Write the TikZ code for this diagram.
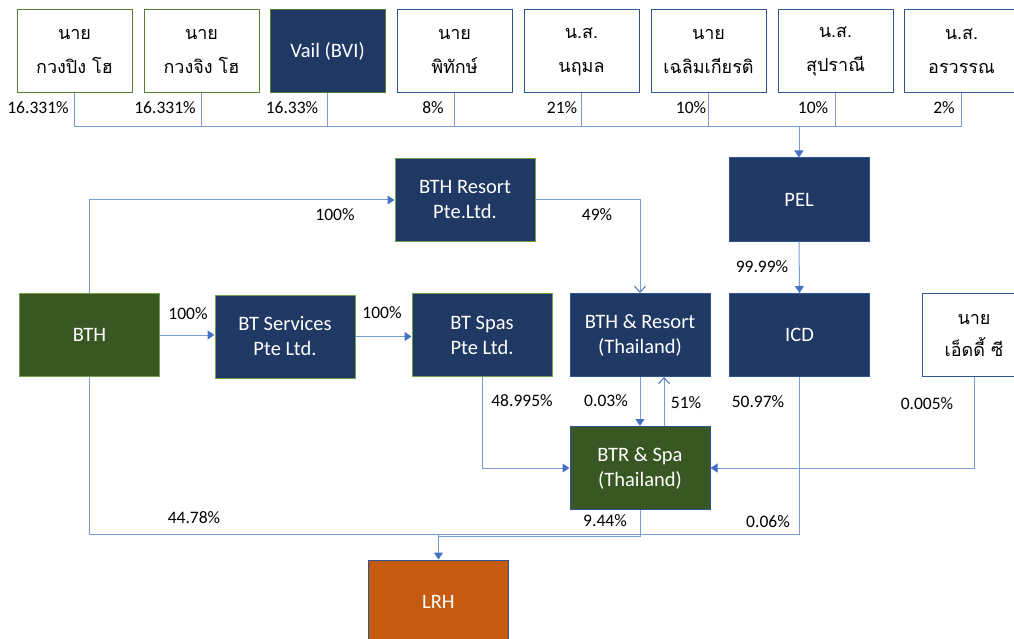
\documentclass[tikz,border=0pt]{standalone}
\usepackage{fontspec}
\setmainfont{Carlito}
\newfontfamily\thaifont[Script=Thai]{Loma}
\usetikzlibrary{arrows.meta}
\definecolor{navy}{RGB}{32,56,100}
\definecolor{dgreen}{RGB}{56,87,35}
\definecolor{gborder}{RGB}{112,160,80}
\definecolor{tgborder}{RGB}{84,130,53}
\definecolor{bborder}{RGB}{47,85,151}
\definecolor{lrhfill}{RGB}{197,90,17}
\definecolor{conn}{RGB}{120,155,215}
\definecolor{tipc}{RGB}{68,114,196}
\tikzset{
  box/.style={draw, line width=1pt, minimum width=140pt, minimum height=83pt, inner sep=0pt, align=center},
  topbox/.style={box, minimum width=115pt},
  thaibox/.style={topbox, fill=white, font=\thaifont\fontsize{18}{34}\selectfont},
  navybox/.style={box, fill=navy, text=white, font=\fontsize{20.5}{25}\selectfont},
  greenbox/.style={box, fill=dgreen, draw=gborder, text=white, font=\fontsize{20.5}{25}\selectfont},
  conline/.style={draw=conn, line width=1pt},
  arr/.style={conline, -{Triangle[width=9pt,length=7pt,color=tipc]}},
  arro/.style={conline, -{Straight Barb[width=11pt,length=6pt,color=tipc]}},
  pct/.style={font=\fontsize{17.5}{20}\selectfont, inner sep=0pt}
}
\begin{document}
\begin{tikzpicture}[x=1pt,y=-1pt]
\useasboundingbox (0,0) rectangle (1014,639);
% top row
\node[thaibox, draw=tgborder] (p1) at (74.5,51.5) {นาย\\กวงปิง โฮ};
\node[thaibox, draw=tgborder] (p2) at (201.5,51.5) {นาย\\กวงจิง โฮ};
\node[topbox, fill=navy, draw=tgborder, text=white, font=\fontsize{20.5}{25}\selectfont] (p3) at (327.5,51.5) {Vail (BVI)};
\node[thaibox, draw=bborder] (p4) at (454.5,51.5) {นาย\\พิทักษ์};
\node[thaibox, draw=bborder] (p5) at (581.5,51.5) {น.ส.\\นฤมล};
\node[thaibox, draw=bborder] (p6) at (708.5,51.5) {นาย\\เฉลิมเกียรติ};
\node[thaibox, draw=bborder] (p7) at (835.5,51.5) {น.ส.\\สุปราณี};
\node[thaibox, draw=bborder] (p8) at (961.5,51.5) {น.ส.\\อรวรรณ};
% middle
\node[navybox, draw=bborder] (pel) at (799,199.5) {PEL};
\node[navybox, draw=gborder] (bthr) at (465,200) {BTH Resort\\Pte.Ltd.};
\node[greenbox] (bth) at (89.5,335) {BTH};
\node[navybox, draw=gborder] (bts) at (285,336.5) {BT Services\\Pte Ltd.};
\node[navybox, draw=gborder] (btspa) at (482,335) {BT Spas\\Pte Ltd.};
\node[navybox, draw=bborder] (bthres) at (640,335) {BTH \& Resort\\(Thailand)};
\node[navybox, draw=bborder] (icd) at (799.5,335) {ICD};
\node[box, draw=bborder, fill=white, minimum width=104pt, font=\thaifont\fontsize{18}{32}\selectfont] (eddy) at (974,335) {นาย\\เอ็ดดี้ ซี};
\node[greenbox, draw=bborder] (btr) at (640,468) {BTR \& Spa\\(Thailand)};
\node[box, fill=lrhfill, draw=bborder, text=white, font=\fontsize{20.5}{25}\selectfont] (lrh) at (438.5,601.5) {LRH};
% top bus
\coordinate (busY) at (0,127);
\foreach \p in {p1,p2,p3,p4,p5,p6,p7}{
  \draw[conline] (\p.south) |- (p8.south |- busY);
}
\draw[conline] (p8.south) -- (p8.south |- busY);
\draw[arr] (pel.north |- busY) -- (pel.north);
% connectors
\draw[arr] (bth.north) |- (bthr.west);
\draw[arro] (bthr.east) -| (bthres.north);
\draw[arr] (pel.south) -- (icd.north);
\draw[arr] (bth.east) -- (bth.east -| bts.west);
\draw[arr] (bts.east) -- (bts.east -| btspa.west);
\draw[arr] (btspa.south) |- (btr.west);
\draw[arr] (bthres.south) -- (btr.north);
\draw[arro] ([xshift=24pt]btr.north) -- ([xshift=24pt]bthres.south);
\draw[arr] (eddy.south) |- (btr.east);
\coordinate (j) at (438.5,534);
\draw[conline] (bth.south) |- (j);
\draw[conline] (icd.south) |- (j);
\draw[conline] (btr.south) |- ([yshift=-2pt]j);
\draw[arr] (j) -- (lrh.north);
% percentages
\node[pct] (l1) at (38,108) {16.331\%};
\node[pct] (l2) at (165,108) {16.331\%};
\node[pct] (l3) at (292,108) {16.33\%};
\node[pct] (l4) at (433,108) {8\%};
\node[pct] (l5) at (562,108) {21\%};
\node[pct] (l6) at (691,108) {10\%};
\node[pct] (l7) at (813,108) {10\%};
\node[pct] (l8) at (944,108) {2\%};
\node[pct] (l9) at (335,215) {100\%};
\node[pct] (l10) at (597,215) {49\%};
\node[pct] (l11) at (762,267) {99.99\%};
\node[pct] (l12) at (188,314) {100\%};
\node[pct] (l13) at (382,313) {100\%};
\node[pct] (l14) at (522,401) {48.995\%};
\node[pct] (l15) at (606,401) {0.03\%};
\node[pct] (l16) at (686,403) {51\%};
\node[pct] (l17) at (758,402) {50.97\%};
\node[pct] (l18) at (927,404) {0.005\%};
\node[pct] (l19) at (194,518) {44.78\%};
\node[pct] (l20) at (605,521) {9.44\%};
\node[pct] (l21) at (768,522) {0.06\%};
\end{tikzpicture}
\end{document}
